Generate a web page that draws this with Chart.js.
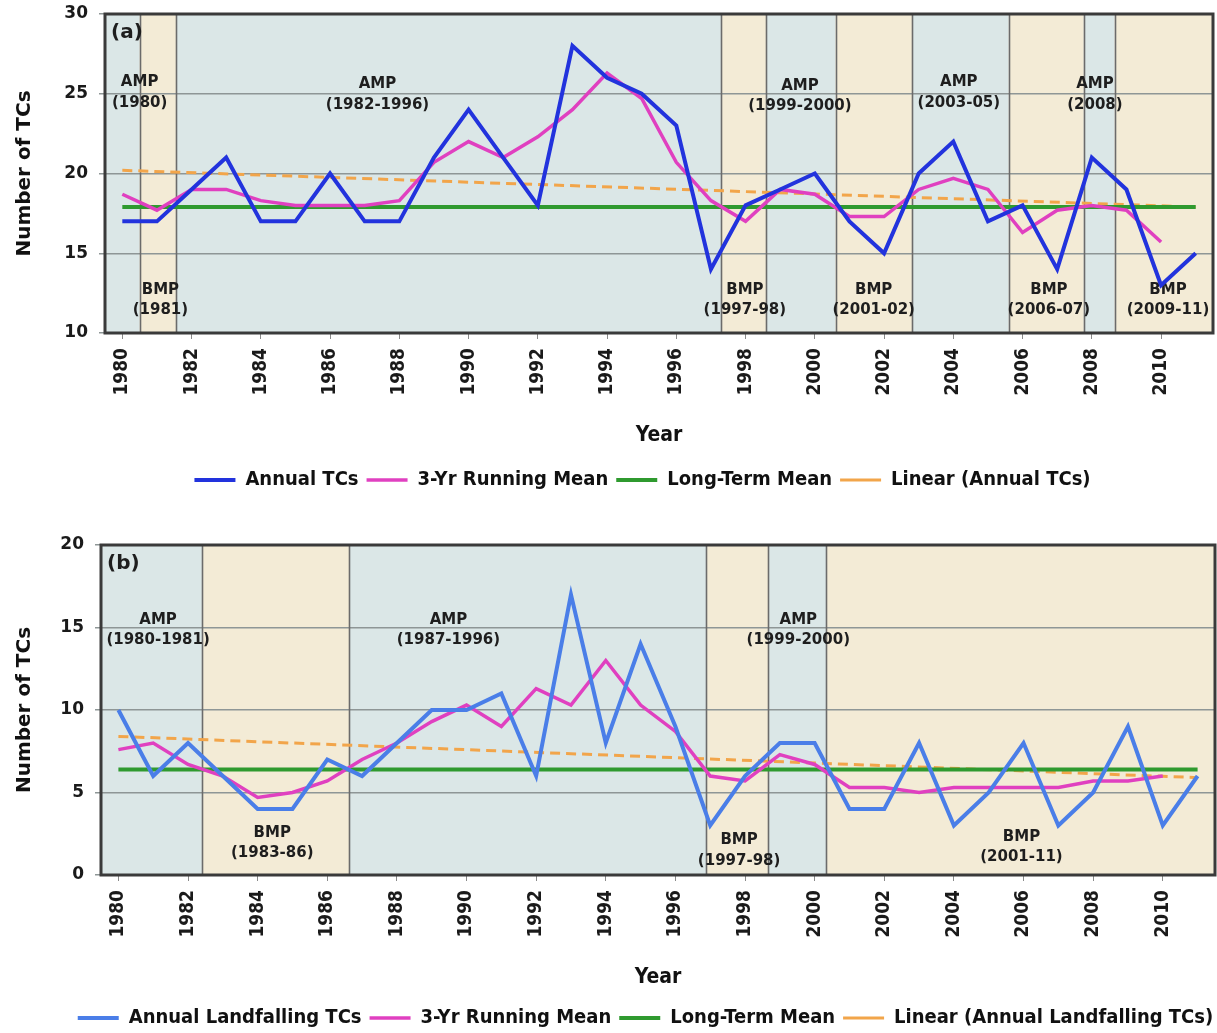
<!DOCTYPE html>
<html><head><meta charset="utf-8">
<script src="https://cdn.jsdelivr.net/npm/chart.js@4.4.1/dist/chart.umd.min.js"></script>
<style>
html,body{margin:0;padding:0;background:#fff;overflow:hidden;width:1217px;height:1033px;}
#ca{position:absolute;left:0;top:0;}
#cb{position:absolute;left:0;top:520px;}
</style></head><body>
<canvas id="ca" width="1217" height="505"></canvas>
<canvas id="cb" width="1217" height="520"></canvas>
<script>
// ---------- data ----------
const years = [1980,1981,1982,1983,1984,1985,1986,1987,1988,1989,1990,1991,1992,1993,1994,1995,
               1996,1997,1998,1999,2000,2001,2002,2003,2004,2005,2006,2007,2008,2009,2010,2011];
const meanYears = years.slice(0, 31); // running mean drawn 1980-2010
const tickYears = [1980,1982,1984,1986,1988,1990,1992,1994,1996,1998,2000,2002,2004,2006,2008,2010];
const trendYears = [1980, 2011];

// panel (a)
const annualTCs = [17,17,19,21,17,17,20,17,17,21,24,21,18,28,26,25,23,14,18,19,20,17,15,20,22,17,18,14,21,19,13,15];
const runningMeanA = [18.7,17.7,19.0,19.0,18.3,18.0,18.0,18.0,18.3,20.7,22.0,21.0,22.3,24.0,26.3,24.7,
                      20.7,18.3,17.0,19.0,18.7,17.3,17.3,19.0,19.7,19.0,16.3,17.7,18.0,17.7,15.7];
const longTermMeanA = [17.9, 17.9];
const linearA = [20.2, 17.9];
const yTicksA = [10, 15, 20, 25, 30];
const periodBoundsA = [1979.5,1980.5,1981.55,1997.3,1998.6,2000.6,2002.82,2005.6,2007.77,2008.66,2011.5];
const periodTypesA = ['AMP','BMP','AMP','BMP','AMP','BMP','AMP','BMP','AMP','BMP'];
const periodLabelsA = [
  {text:['AMP','(1980)'], x:1980.5, y:25.7},
  {text:['BMP','(1981)'], x:1981.1, y:12.7},
  {text:['AMP','(1982-1996)'], x:1987.37, y:25.6},
  {text:['BMP','(1997-98)'], x:1997.98, y:12.7},
  {text:['AMP','(1999-2000)'], x:1999.57, y:25.5},
  {text:['BMP','(2001-02)'], x:2001.7, y:12.7},
  {text:['AMP','(2003-05)'], x:2004.16, y:25.7},
  {text:['BMP','(2006-07)'], x:2006.76, y:12.7},
  {text:['AMP','(2008)'], x:2008.09, y:25.6},
  {text:['BMP','(2009-11)'], x:2010.2, y:12.7}
];

// panel (b)
const annualLandfalling = [10,6,8,6,4,4,7,6,8,10,10,11,6,17,8,14,9,3,6,8,8,4,4,8,3,5,8,3,5,9,3,6];
const runningMeanB = [7.6,8.0,6.7,6.0,4.7,5.0,5.7,7.0,8.0,9.3,10.3,9.0,11.3,10.3,13.0,10.3,
                      8.7,6.0,5.7,7.3,6.7,5.3,5.3,5.0,5.3,5.3,5.3,5.3,5.7,5.7,6.0];
const longTermMeanB = [6.4, 6.4];
const linearB = [8.4, 5.9];
const yTicksB = [0, 5, 10, 15, 20];
const periodBoundsB = [1979.5,1982.4,1986.63,1996.88,1998.66,2000.33,2011.5];
const periodTypesB = ['AMP','BMP','AMP','BMP','AMP','BMP'];
const periodLabelsB = [
  {text:['AMP','(1980-1981)'], x:1981.14, y:15.45},
  {text:['BMP','(1983-86)'], x:1984.42, y:2.55},
  {text:['AMP','(1987-1996)'], x:1989.48, y:15.45},
  {text:['BMP','(1997-98)'], x:1997.83, y:2.1},
  {text:['AMP','(1999-2000)'], x:1999.53, y:15.45},
  {text:['BMP','(2001-11)'], x:2005.94, y:2.3}
];

// ---------- styles ----------
const AMP_COLOR = '#dbe7e7';
const BMP_COLOR = '#f3ebd6';
const SANS = '"DejaVu Sans", sans-serif';
const COND = '"DejaVu Sans Condensed", "DejaVu Sans", sans-serif';

const pts = (xs, ys) => ys.map((v, i) => ({x: xs[i], y: v}));

function panelPlugin(id, bounds, types, labels, tag, legendShift) {
  return {
    id: 'panel' + id,
    beforeDraw(chart) {
      const {ctx, chartArea: a, scales: {x}} = chart;
      ctx.save();
      ctx.fillStyle = '#fff';
      ctx.fillRect(0, 0, chart.width, chart.height);
      for (let i = 0; i < types.length; i++) {
        const x0 = x.getPixelForValue(bounds[i]);
        const x1 = x.getPixelForValue(bounds[i + 1]);
        ctx.fillStyle = types[i] === 'AMP' ? AMP_COLOR : BMP_COLOR;
        ctx.fillRect(x0, a.top, x1 - x0, a.bottom - a.top);
      }
      ctx.restore();
    },
    afterLayout(chart) {
      chart.legend.left += legendShift;
      chart.legend.right += legendShift;
    },
    beforeDatasetsDraw(chart) {
      const {ctx, chartArea: a, scales: {x, y}} = chart;
      ctx.save();
      // period boundaries
      ctx.strokeStyle = '#6b6b6b';
      ctx.lineWidth = 1.6;
      for (let i = 1; i < bounds.length - 1; i++) {
        const px = Math.round(x.getPixelForValue(bounds[i])) + 0.5;
        ctx.beginPath(); ctx.moveTo(px, a.top); ctx.lineTo(px, a.bottom); ctx.stroke();
      }
      // annotations
      ctx.fillStyle = '#1e1e1e';
      ctx.textAlign = 'center';
      ctx.textBaseline = 'middle';
      ctx.font = 'bold 15px ' + SANS;
      labels.forEach(l => {
        const px = x.getPixelForValue(l.x), py = y.getPixelForValue(l.y);
        l.text.forEach((t, k) => ctx.fillText(t, px, py + k * 20.5));
      });
      // panel tag
      ctx.textAlign = 'left';
      ctx.font = 'bold 20px ' + SANS;
      ctx.fillText(tag, a.left + 6, a.top + 19);
      // frame
      ctx.strokeStyle = '#3a3a3a';
      ctx.lineWidth = 3;
      ctx.strokeRect(a.left, a.top, a.right - a.left, a.bottom - a.top);
      ctx.restore();
    }
  };
}

function makeChart(canvasId, cfg) {
  return new Chart(document.getElementById(canvasId), {
    type: 'line',
    data: {
      datasets: [
        {label: cfg.names[0], data: pts(years, cfg.annual), borderColor: cfg.annualColor, borderWidth: 4},
        {label: '3-Yr Running Mean', data: pts(meanYears, cfg.running), borderColor: '#e040c0', borderWidth: 3.5},
        {label: 'Long-Term Mean', data: pts(trendYears, cfg.ltm), borderColor: '#2f9a2f', borderWidth: 4},
        {label: cfg.names[1], data: pts(trendYears, cfg.linear), borderColor: '#f2a54a', borderWidth: 3, borderDash: [10, 6]}
      ]
    },
    options: {
      responsive: false,
      animation: false,
      events: [],
      layout: {padding: {left: 0, right: cfg.padRight, top: cfg.padTop, bottom: cfg.padBottom}},
      elements: {point: {radius: 0, hoverRadius: 0}, line: {tension: 0, fill: false}},
      scales: {
        x: {
          type: 'linear', min: 1979.5, max: 2011.5,
          afterBuildTicks: s => { s.ticks = tickYears.map(v => ({value: v})); },
          afterFit: s => { s.height = cfg.xHeight; },
          border: {display: false},
          grid: {drawOnChartArea: false, drawTicks: true, tickLength: 6, color: '#8a8a8a'},
          ticks: {autoSkip: false, minRotation: 90, maxRotation: 90, padding: 9,
                  color: '#1a1a1a', font: {family: COND, weight: 'bold', size: 19},
                  callback: v => String(v)},
          title: {display: true, text: 'Year', color: '#111',
                  font: {family: COND, weight: 'bold', size: 21}, padding: {top: 0, bottom: cfg.yearPad}}
        },
        y: {
          min: cfg.yTicks[0], max: cfg.yTicks[cfg.yTicks.length - 1],
          afterBuildTicks: s => { s.ticks = cfg.yTicks.map(v => ({value: v})); },
          afterFit: s => { s.width = cfg.yWidth; s.paddingTop = 4; s.paddingBottom = 4; },
          border: {display: false},
          grid: {color: '#8e9696', lineWidth: 1.5, tickLength: 6},
          ticks: {padding: 11, color: '#1a1a1a', font: {family: SANS, weight: 'bold', size: 17}},
          title: {display: true, text: 'Number of TCs', color: '#111',
                  font: {family: SANS, weight: 'bold', size: 20}, padding: {top: 13, bottom: 0}}
        }
      },
      plugins: {
        legend: {
          position: 'bottom',
          labels: {usePointStyle: true, pointStyle: 'line', pointStyleWidth: 41, padding: 8,
                   color: '#111', font: {family: COND, weight: 'bold', size: 20}}
        },
        tooltip: {enabled: false}
      }
    },
    plugins: [panelPlugin(canvasId, cfg.bounds, cfg.types, cfg.labels, cfg.tag, cfg.legendShift)]
  });
}

makeChart('ca', {
  names: ['Annual TCs', 'Linear (Annual TCs)'], annualColor: '#2233dd',
  annual: annualTCs, running: runningMeanA, ltm: longTermMeanA, linear: linearA,
  yTicks: yTicksA, bounds: periodBoundsA, types: periodTypesA, labels: periodLabelsA, tag: '(a)',
  padTop: 14, padBottom: 5, padRight: 4, xHeight: 129, yWidth: 105, yearPad: 14, legendShift: 36
});
makeChart('cb', {
  names: ['Annual Landfalling TCs', 'Linear (Annual Landfalling TCs)'], annualColor: '#4a7ee8',
  annual: annualLandfalling, running: runningMeanB, ltm: longTermMeanB, linear: linearB,
  yTicks: yTicksB, bounds: periodBoundsB, types: periodTypesB, labels: periodLabelsB, tag: '(b)',
  padTop: 25, padBottom: 2, padRight: 2, xHeight: 125, yWidth: 101, yearPad: 10, legendShift: 38
});
</script>
</body></html>
